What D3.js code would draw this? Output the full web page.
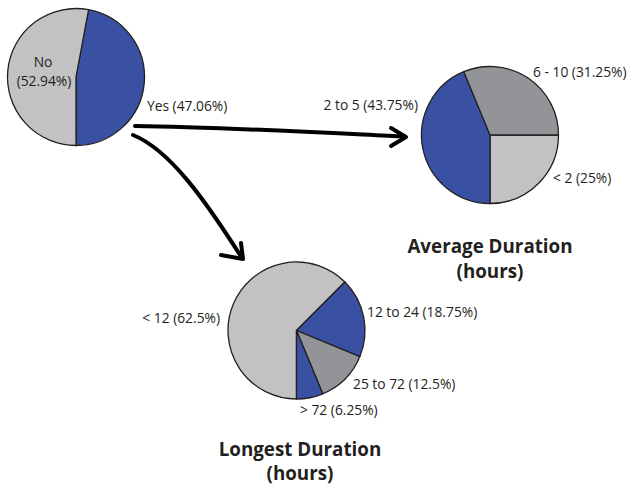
<!DOCTYPE html>
<html>
<head>
<meta charset="utf-8">
<script src="https://cdn.jsdelivr.net/npm/d3@7/dist/d3.min.js"></script>
<style>
  html, body { margin: 0; padding: 0; background: #fff; }
  svg { display: block; }
  text { font-family: "Open Sans", "Noto Sans", sans-serif; fill: #231f20; }
</style>
</head>
<body>
<svg id="chart" width="632" height="486"></svg>
<script>
// Share of respondents
const rootLabels = ["Yes", "No"];
const rootValues = [47.06, 52.94];

// Average duration (hours)
const avgLabels = ["< 2", "2 to 5", "6 - 10"];
const avgValues = [25, 43.75, 31.25];

// Longest duration (hours)
const longLabels = ["< 12", "12 to 24", "25 to 72", "> 72"];
const longValues = [62.5, 18.75, 12.5, 6.25];

const BLUE = "#3a50a2", LIGHT = "#c2c2c3", DARK = "#939497", INK = "#231f20";

const svg = d3.select("#chart");
const R = 68.5;

function drawPie(cx, cy, labels, values, colors, startAngle) {
  const pie = d3.pie().sort(null).value(d => d)
    .startAngle(startAngle).endAngle(startAngle + 2 * Math.PI);
  const arc = d3.arc().innerRadius(0).outerRadius(R);
  const g = svg.append("g").attr("transform", `translate(${cx},${cy})`);
  g.selectAll("path").data(pie(values)).join("path")
    .attr("d", arc)
    .attr("fill", (d, i) => colors[i])
    .attr("stroke", INK).attr("stroke-width", 1.3).attr("stroke-linejoin", "round");
  return pie(values);
}

// Root pie
drawPie(76, 77, rootLabels, rootValues, [BLUE, LIGHT],
  Math.PI - rootValues[0] / 100 * 2 * Math.PI);
// Average duration pie
drawPie(490, 135, avgLabels, avgValues, [LIGHT, BLUE, DARK], Math.PI / 2);
// Longest duration pie
drawPie(296.5, 330.5, longLabels, longValues, [LIGHT, BLUE, DARK, BLUE], Math.PI);

const fmt = v => `(${v}%)`;
function label(x, y, txt, anchor) {
  svg.append("text").attr("x", x).attr("y", y)
    .attr("text-anchor", anchor || "start")
    .attr("font-size", 13.8).text(txt);
}

// Root labels
label(43, 67, rootLabels[1], "middle");
label(44, 86, fmt(rootValues[1]), "middle");
label(147, 111, `${rootLabels[0]} ${fmt(rootValues[0])}`);

// Average labels
label(418, 110, `${avgLabels[1]} ${fmt(avgValues[1])}`, "end");
label(533, 77, `${avgLabels[2]} ${fmt(avgValues[2])}`);
label(553, 183, `${avgLabels[0]} ${fmt(avgValues[0])}`);

// Longest labels
label(220, 323, `${longLabels[0]} ${fmt(longValues[0])}`, "end");
label(367, 317, `${longLabels[1]} ${fmt(longValues[1])}`);
label(353, 389, `${longLabels[2]} ${fmt(longValues[2])}`);
label(300, 415, `${longLabels[3]} ${fmt(longValues[3])}`);

// Titles
function title(cx, y, lines) {
  lines.forEach((t, i) => {
    svg.append("text").attr("x", cx).attr("y", y + i * 24.5)
      .attr("text-anchor", "middle").attr("font-size", 18.8)
      .attr("font-weight", 700).text(t);
  });
}
title(490, 253, ["Average Duration", "(hours)"]);
title(300, 455.5, ["Longest Duration", "(hours)"]);

// Flow arrows
const arrows = svg.append("g").attr("fill", "none").attr("stroke", "#000")
  .attr("stroke-width", 4).attr("stroke-linecap", "round").attr("stroke-linejoin", "round");
arrows.append("path").attr("d", "M135,126 C220,127 330,133 405,136.5");
arrows.append("path").attr("d", "M391,128 L406,137 L391,146");
arrows.append("path").attr("d", "M133,135 C170,150 205,200 242,258");
arrows.append("path").attr("d", "M241,243 L243,259 L221,255");
</script>
</body>
</html>
